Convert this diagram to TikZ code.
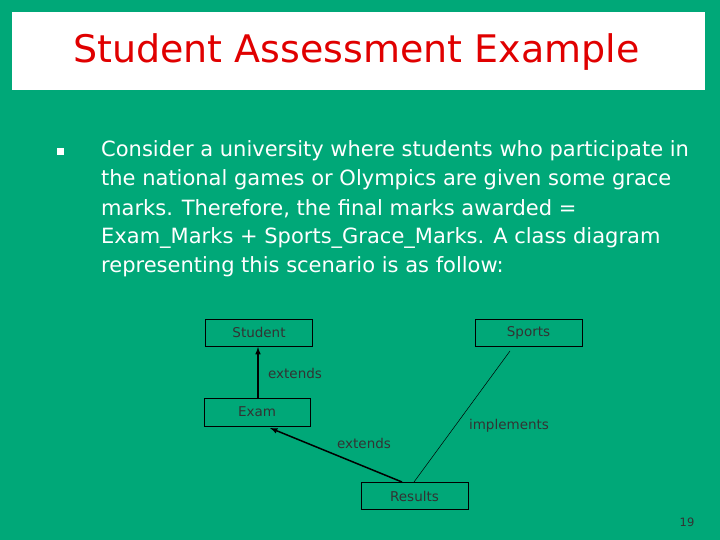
\documentclass[tikz,border=0pt]{standalone}
\usepackage{fontspec}
\setmainfont{DejaVu Sans}
\definecolor{bg}{HTML}{00A878}
\definecolor{ttl}{HTML}{E00000}
\begin{document}
\begin{tikzpicture}[x=1pt,y=-1pt,
  cls/.style={draw=black,line width=0.6pt,minimum width=107pt,minimum height=27pt,inner sep=0pt,font=\fontsize{13.5}{16}\selectfont,text=black!80},
  lbl/.style={font=\fontsize{13.5}{16}\selectfont,text=black!80,inner sep=0pt},
  body/.style={anchor=west,inner sep=0pt,font=\fontsize{21}{24}\selectfont,text=white}]
\fill[bg] (0,0) rectangle (720,540);
\useasboundingbox (0,0) rectangle (720,540);
\fill[white] (12,12) rectangle (705,90);
\node[anchor=west,inner sep=0pt,text=ttl,font=\fontsize{38}{44}\selectfont] (title) at (73,52) {Student Assessment Example};
\fill[white] (57,148) rectangle (64,155);
\node[body] (l1) at (101,151) {Consider a university where students who participate in};
\node[body] (l2) at (101,180) {the national games or Olympics are given some grace};
\node[body] (l3) at (101,209) {marks. Therefore, the final marks awarded =};
\node[body] (l4) at (101,238) {Exam\_Marks + Sports\_Grace\_Marks. A class diagram};
\node[body] (l5) at (101,267) {representing this scenario is as follow:};
\node[cls] (student) at (259,332.5) {Student};
\node[cls] (sports) at (528.5,332.5) {Sports};
\node[cls,minimum width=106pt,minimum height=28pt] (exam) at (257,412) {Exam};
\node[cls] (results) at (414.5,496) {Results};
\draw[line width=1.5pt,-latex] (258,398) -- (258,347);
\draw[line width=1.5pt,-latex] (402,482) -- (270,428);
\draw[line width=0.5pt] (510,351) -- (414,482);
\node[lbl] (e1) at (295,373) {extends};
\node[lbl] (e2) at (364,443) {extends};
\node[lbl] (imp) at (509,426) {implements};
\node[lbl,font=\fontsize{11.5}{13}\selectfont] (pg) at (687,522) {19};
\end{tikzpicture}
\end{document}
